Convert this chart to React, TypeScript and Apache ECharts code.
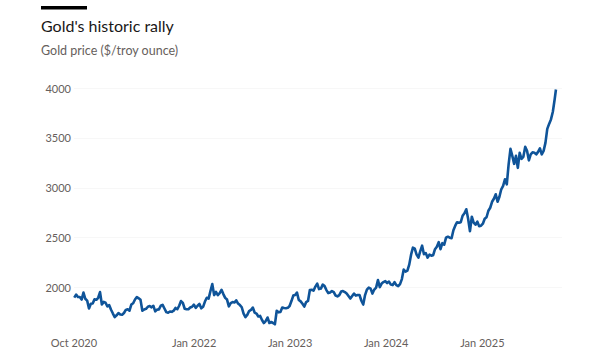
import React, { useEffect, useRef } from "react";
import * as echarts from "echarts";

const DAY = 86400000;

// Weekly gold prices ($/troy ounce), each block starts on the given Friday
const gold2020Start = "2020-10-02";
const gold2020 = [1900, 1930, 1905, 1905, 1880, 1950, 1888, 1870, 1790, 1838, 1840, 1882, 1878];

const gold2021Start = "2021-01-01";
const gold2021 = [
  1898, 1955, 1830, 1856, 1848,
  1812, 1824, 1778, 1740,
  1705, 1722, 1745, 1730,
  1728, 1745, 1776, 1782, 1768,
  1830, 1843, 1881, 1905,
  1892, 1877, 1768, 1781,
  1787, 1808, 1815, 1802, 1817,
  1762, 1779, 1781, 1818,
  1827, 1790, 1754, 1748,
  1760, 1757, 1768, 1796, 1783,
  1818, 1865, 1846, 1788,
  1783, 1783, 1800, 1808, 1829,
];

const gold2022Start = "2022-01-07";
const gold2022 = [
  1797, 1818, 1836, 1792,
  1807, 1860, 1898, 1889,
  1966, 2035, 1925, 1956,
  1925, 1945, 1978, 1935, 1897,
  1880, 1812, 1845, 1855,
  1850, 1872, 1840, 1825,
  1803, 1740, 1705, 1726, 1765,
  1776, 1800, 1750, 1740,
  1710, 1716, 1675, 1645, 1665,
  1700, 1645, 1655, 1645,
  1632, 1768, 1752, 1756,
  1800, 1795, 1793, 1797, 1815,
];

const gold2023Start = "2023-01-06";
const gold2023 = [
  1865, 1920, 1926, 1950,
  1876, 1862, 1838, 1810,
  1855, 1866, 1975, 1978, 1969,
  2010, 2040, 1985, 1990,
  2030, 2015, 1975, 1945,
  1950, 1965, 1955, 1920, 1912,
  1925, 1960, 1965, 1955,
  1940, 1915, 1890, 1915,
  1940, 1920, 1925, 1925, 1868,
  1830, 1925, 1980, 2000,
  1990, 1940, 1980, 2000,
  2075, 2005, 2040, 2055, 2065,
];

const gold2024Start = "2024-01-05";
const gold2024 = [
  2045, 2060, 2030, 2025,
  2055, 2025, 2015, 2035,
  2085, 2180, 2160, 2170, 2230,
  2330, 2400, 2390, 2330,
  2300, 2365, 2420, 2335, 2345,
  2300, 2330, 2320, 2325,
  2385, 2410, 2455, 2385,
  2445, 2430, 2500, 2510, 2500,
  2495, 2575, 2620, 2655,
  2650, 2655, 2720, 2745,
  2785, 2690, 2565, 2710, 2650,
  2630, 2660, 2615, 2620,
];

const gold2025Start = "2025-01-03";
const gold2025 = [
  2640, 2690, 2705, 2770, 2800,
  2860, 2890, 2935, 2860,
  2910, 2985, 3020, 3085,
  3035, 3235, 3390, 3320,
  3240, 3320, 3200, 3350, 3290,
  3310, 3410, 3370, 3275,
  3335, 3355, 3350, 3335,
  3360, 3395, 3335, 3370, 3450,
  3590, 3640, 3685, 3760,
  3885,
];

const lastDate = "2025-10-08";
const lastValue = 3985;

const xTickDates = ["2020-10-01", "2022-01-01", "2023-01-01", "2024-01-01", "2025-01-01"];
const xTickLabels = ["Oct 2020", "Jan 2022", "Jan 2023", "Jan 2024", "Jan 2025"];
const yTicks = [2000, 2500, 3000, 3500, 4000];

const xMin = "2020-10-01";
const xMax = "2025-10-31";

function ts(s: string): number {
  const [y, m, d] = s.split("-").map(Number);
  return Date.UTC(y, m - 1, d);
}

const blocks: [string, number[]][] = [
  [gold2020Start, gold2020],
  [gold2021Start, gold2021],
  [gold2022Start, gold2022],
  [gold2023Start, gold2023],
  [gold2024Start, gold2024],
  [gold2025Start, gold2025],
];

const FONT = "Lato, 'Noto Sans', sans-serif";

export default function App() {
  const ref = useRef<HTMLDivElement>(null);

  useEffect(() => {
    if (!ref.current) return;
    const chart = echarts.init(ref.current, undefined, { renderer: "svg" });
    const seriesData: [number, number][] = [];
    blocks.forEach(([start, vals]) => {
      const t0 = ts(start);
      vals.forEach((v, i) => seriesData.push([t0 + i * 7 * DAY, v]));
    });
    seriesData.push([ts(lastDate), lastValue]);

    const tickTs = xTickDates.map(ts);

    chart.setOption({
      animation: false,
      backgroundColor: "#ffffff",
      grid: { left: 74, right: 40, top: 88, bottom: 34.5, containLabel: false },
      xAxis: {
        type: "value",
        min: ts(xMin),
        max: ts(xMax),
        axisLine: { show: false },
        axisTick: { show: false, customValues: tickTs },
        splitLine: { show: false },
        axisLabel: {
          customValues: tickTs,
          showMinLabel: true,
          showMaxLabel: true,
          hideOverlap: false,
          margin: 9,
          color: "#66605c",
          fontFamily: FONT,
          fontSize: 11,
          formatter: (v: number) => {
            let best = 0;
            let bestD = Infinity;
            tickTs.forEach((t, i) => {
              const d = Math.abs(t - v);
              if (d < bestD) {
                bestD = d;
                best = i;
              }
            });
            return xTickLabels[best];
          },
        },
      },
      yAxis: {
        type: "value",
        min: 1600,
        max: 4000,
        axisLine: { show: false },
        axisTick: { show: false, customValues: yTicks },
        splitLine: { show: true, lineStyle: { color: "#f7f7f7", width: 1 } },
        axisLabel: {
          customValues: yTicks,
          margin: 3,
          color: "#66605c",
          fontFamily: FONT,
          fontSize: 11,
          formatter: (v: number) => String(v),
        },
      },
      graphic: [
        { type: "rect", shape: { x: 41, y: 6, width: 46, height: 3.5 }, style: { fill: "#000000" } },
        {
          type: "text",
          x: 41,
          y: 25.5,
          style: {
            text: "Gold's historic rally",
            fontFamily: FONT,
            fontSize: 16,
            fill: "#1a1817",
            verticalAlign: "middle",
          },
        },
        {
          type: "text",
          x: 41,
          y: 50,
          style: {
            text: "Gold price ($/troy ounce)",
            fontFamily: FONT,
            fontSize: 12.5,
            fill: "#66605c",
            verticalAlign: "middle",
          },
        },
      ],
      series: [
        {
          type: "line",
          data: seriesData,
          showSymbol: false,
          symbol: "none",
          lineStyle: { color: "#0f5499", width: 2.6, join: "round" },
          emphasis: { disabled: true },
        },
      ],
    });
    return () => chart.dispose();
  }, []);

  return (
    <div
      ref={ref}
      style={{ position: "fixed", left: 0, top: 0, width: 602, height: 362, background: "#fff" }}
    />
  );
}
